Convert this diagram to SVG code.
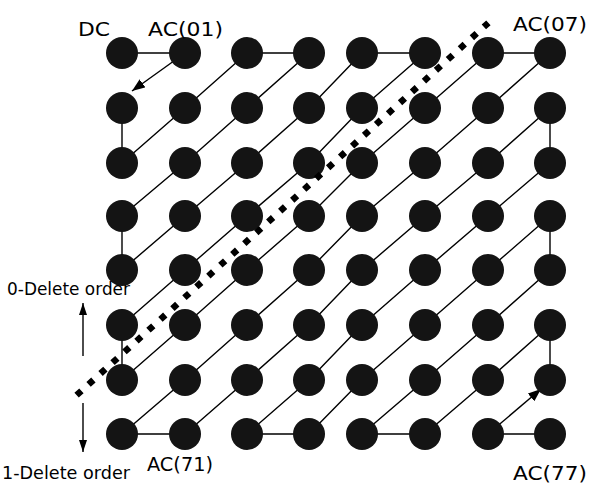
<svg xmlns="http://www.w3.org/2000/svg" width="592" height="486" viewBox="0 0 592 486">
<style>
.n{fill:#141414}
.e{fill:none;stroke:#000;stroke-width:1.4;stroke-linejoin:round}
.t{font-family:"DejaVu Sans","Liberation Sans",sans-serif;fill:#000}
.big{font-size:20px}
.sm{font-size:17px}
.dot{fill:none;stroke:#000;stroke-width:6.5;stroke-dasharray:6.5 9.65}
</style>
<defs>
<marker id="ah" markerUnits="userSpaceOnUse" markerWidth="14" markerHeight="12" refX="13" refY="5" orient="auto">
<path d="M0,0 L13,5 L0,10 Z" fill="#000"/>
</marker>
<marker id="ah2" markerUnits="userSpaceOnUse" markerWidth="13" markerHeight="10" refX="12" refY="4" orient="auto">
<path d="M0,0 L12,4 L0,8 Z" fill="#000"/>
</marker>
</defs>
<rect width="592" height="486" fill="#fff"/>
<g id="connectors">
<path class="e" d="M122,53 L185,53"/>
<path class="e" d="M185,53 L132,91" marker-end="url(#ah)"/>
<path class="e" d="M122,108 L122,163 L185,108 L247,53 L309,53 L247,108 L185,163 L122,216 L122,270 L185,216 L247,163 L309,108 L362,53 L425,53 L362,108 L309,163 L247,216 L185,270 L122,325 L122,380 L185,325 L247,270 L309,216 L362,163 L425,108 L488,53 L550,53 L488,108 L425,163 L362,216 L309,270 L247,325 L185,380 L122,434 L185,434 L247,380 L309,325 L362,270 L425,216 L488,163 L550,108 L550,163 L488,216 L425,270 L362,325 L309,380 L247,434 L309,434 L362,380 L425,325 L488,270 L550,216 L550,270 L488,325 L425,380 L362,434 L425,434 L488,380 L550,325 L550,380"/>
<path class="e" d="M488,434 L541,389" marker-end="url(#ah)"/>
<path class="e" d="M488,434 L550,434"/>
<path class="e" d="M83,356 L83,303" marker-end="url(#ah2)"/>
<path class="e" d="M83,403 L83,452" marker-end="url(#ah2)"/>
</g>
<g id="nodes">
<g id="n00"><circle class="n" cx="122" cy="53" r="16"/></g>
<g id="n01"><circle class="n" cx="185" cy="53" r="16"/></g>
<g id="n02"><circle class="n" cx="247" cy="53" r="16"/></g>
<g id="n03"><circle class="n" cx="309" cy="53" r="16"/></g>
<g id="n04"><circle class="n" cx="362" cy="53" r="16"/></g>
<g id="n05"><circle class="n" cx="425" cy="53" r="16"/></g>
<g id="n06"><circle class="n" cx="488" cy="53" r="16"/></g>
<g id="n07"><circle class="n" cx="550" cy="53" r="16"/></g>
<g id="n10"><circle class="n" cx="122" cy="108" r="16"/></g>
<g id="n11"><circle class="n" cx="185" cy="108" r="16"/></g>
<g id="n12"><circle class="n" cx="247" cy="108" r="16"/></g>
<g id="n13"><circle class="n" cx="309" cy="108" r="16"/></g>
<g id="n14"><circle class="n" cx="362" cy="108" r="16"/></g>
<g id="n15"><circle class="n" cx="425" cy="108" r="16"/></g>
<g id="n16"><circle class="n" cx="488" cy="108" r="16"/></g>
<g id="n17"><circle class="n" cx="550" cy="108" r="16"/></g>
<g id="n20"><circle class="n" cx="122" cy="163" r="16"/></g>
<g id="n21"><circle class="n" cx="185" cy="163" r="16"/></g>
<g id="n22"><circle class="n" cx="247" cy="163" r="16"/></g>
<g id="n23"><circle class="n" cx="309" cy="163" r="16"/></g>
<g id="n24"><circle class="n" cx="362" cy="163" r="16"/></g>
<g id="n25"><circle class="n" cx="425" cy="163" r="16"/></g>
<g id="n26"><circle class="n" cx="488" cy="163" r="16"/></g>
<g id="n27"><circle class="n" cx="550" cy="163" r="16"/></g>
<g id="n30"><circle class="n" cx="122" cy="216" r="16"/></g>
<g id="n31"><circle class="n" cx="185" cy="216" r="16"/></g>
<g id="n32"><circle class="n" cx="247" cy="216" r="16"/></g>
<g id="n33"><circle class="n" cx="309" cy="216" r="16"/></g>
<g id="n34"><circle class="n" cx="362" cy="216" r="16"/></g>
<g id="n35"><circle class="n" cx="425" cy="216" r="16"/></g>
<g id="n36"><circle class="n" cx="488" cy="216" r="16"/></g>
<g id="n37"><circle class="n" cx="550" cy="216" r="16"/></g>
<g id="n40"><circle class="n" cx="122" cy="270" r="16"/></g>
<g id="n41"><circle class="n" cx="185" cy="270" r="16"/></g>
<g id="n42"><circle class="n" cx="247" cy="270" r="16"/></g>
<g id="n43"><circle class="n" cx="309" cy="270" r="16"/></g>
<g id="n44"><circle class="n" cx="362" cy="270" r="16"/></g>
<g id="n45"><circle class="n" cx="425" cy="270" r="16"/></g>
<g id="n46"><circle class="n" cx="488" cy="270" r="16"/></g>
<g id="n47"><circle class="n" cx="550" cy="270" r="16"/></g>
<g id="n50"><circle class="n" cx="122" cy="325" r="16"/></g>
<g id="n51"><circle class="n" cx="185" cy="325" r="16"/></g>
<g id="n52"><circle class="n" cx="247" cy="325" r="16"/></g>
<g id="n53"><circle class="n" cx="309" cy="325" r="16"/></g>
<g id="n54"><circle class="n" cx="362" cy="325" r="16"/></g>
<g id="n55"><circle class="n" cx="425" cy="325" r="16"/></g>
<g id="n56"><circle class="n" cx="488" cy="325" r="16"/></g>
<g id="n57"><circle class="n" cx="550" cy="325" r="16"/></g>
<g id="n60"><circle class="n" cx="122" cy="380" r="16"/></g>
<g id="n61"><circle class="n" cx="185" cy="380" r="16"/></g>
<g id="n62"><circle class="n" cx="247" cy="380" r="16"/></g>
<g id="n63"><circle class="n" cx="309" cy="380" r="16"/></g>
<g id="n64"><circle class="n" cx="362" cy="380" r="16"/></g>
<g id="n65"><circle class="n" cx="425" cy="380" r="16"/></g>
<g id="n66"><circle class="n" cx="488" cy="380" r="16"/></g>
<g id="n67"><circle class="n" cx="550" cy="380" r="16"/></g>
<g id="n70"><circle class="n" cx="122" cy="434" r="16"/></g>
<g id="n71"><circle class="n" cx="185" cy="434" r="16"/></g>
<g id="n72"><circle class="n" cx="247" cy="434" r="16"/></g>
<g id="n73"><circle class="n" cx="309" cy="434" r="16"/></g>
<g id="n74"><circle class="n" cx="362" cy="434" r="16"/></g>
<g id="n75"><circle class="n" cx="425" cy="434" r="16"/></g>
<g id="n76"><circle class="n" cx="488" cy="434" r="16"/></g>
<g id="n77"><circle class="n" cx="550" cy="434" r="16"/></g>
</g>
<g id="cutline">
<path class="dot" d="M76.6,395.2 L488.4,22.8"/>
</g>
<g id="labels">
<text class="t big" x="78" y="36" textLength="32" lengthAdjust="spacingAndGlyphs">DC</text>
<text class="t big" x="148" y="36" textLength="75" lengthAdjust="spacingAndGlyphs">AC(01)</text>
<text class="t big" x="513" y="31" textLength="74" lengthAdjust="spacingAndGlyphs">AC(07)</text>
<text class="t big" x="147" y="471" textLength="66" lengthAdjust="spacingAndGlyphs">AC(71)</text>
<text class="t big" x="513" y="480" textLength="74" lengthAdjust="spacingAndGlyphs">AC(77)</text>
<text class="t sm" x="7" y="295" textLength="123" lengthAdjust="spacingAndGlyphs">0-Delete order</text>
<text class="t sm" x="2" y="479" textLength="128" lengthAdjust="spacingAndGlyphs">1-Delete order</text>
</g>
</svg>
